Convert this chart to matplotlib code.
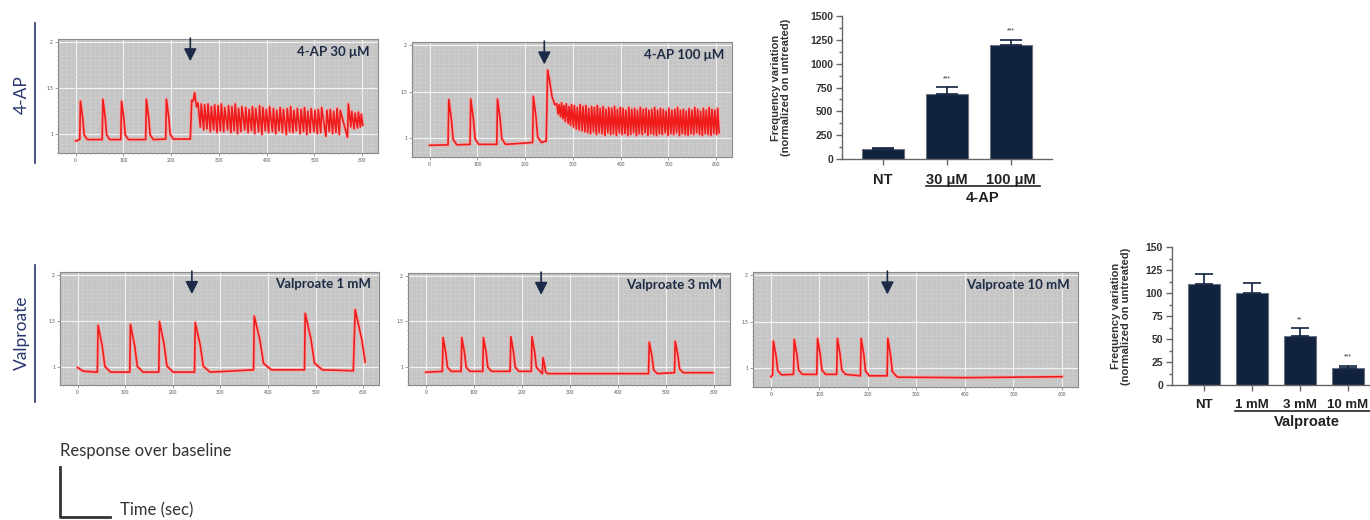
import matplotlib
matplotlib.use('Agg')
import matplotlib.pyplot as plt
from matplotlib.lines import Line2D
from matplotlib.ticker import MultipleLocator

plt.rcParams['font.family'] = ['Lato', 'DejaVu Sans']

W, H = 1370, 520
NAVY = '#1b2a47'
BAR = '#10223e'
RED = '#f01c1c'

# ---- calcium traces (time in s, response over baseline) ----
# 4-AP 30 uM
ap30_start_t = [0]
ap30_start_y = [0.93]
ap30_spike_t = [10, 57, 96, 148, 190]
ap30_spike_y = [1.36, 1.38, 1.36, 1.38, 1.38]
ap30_spike_base = [0.945, 0.945, 0.945, 0.945, 0.95]
ap30_spike_dur = [12, 12, 12, 12, 12]
ap30_tail_t = [240, 243, 246, 249, 253]
ap30_tail_y = [0.95, 1.37, 1.36, 1.45, 1.30]
ap30_burst_t = [256, 263, 270, 277, 284, 291, 298, 305, 312, 320,
                327, 334, 341, 348, 356, 363, 370, 377, 385, 392,
                399, 406, 414, 421, 428, 435, 443, 450, 457, 464,
                472, 479, 486, 493, 501, 508, 515, 526, 533, 540,
                547, 554, 571, 578, 585, 592, 598]
ap30_burst_hi = [1.34, 1.33, 1.32, 1.33, 1.30, 1.32, 1.31, 1.33, 1.29, 1.31,
                 1.30, 1.33, 1.28, 1.30, 1.29, 1.27, 1.30, 1.28, 1.31, 1.29,
                 1.27, 1.30, 1.28, 1.26, 1.29, 1.27, 1.28, 1.30, 1.26, 1.28,
                 1.27, 1.29, 1.25, 1.28, 1.26, 1.27, 1.29, 1.26, 1.27, 1.25,
                 1.28, 1.26, 1.33, 1.25, 1.23, 1.24, 1.22]
ap30_burst_lo = [1.08, 1.05, 1.06, 1.03, 1.05, 1.02, 1.04, 1.03, 1.05, 1.02,
                 1.04, 1.01, 1.03, 1.05, 1.02, 1.04, 1.01, 1.03, 1.00, 1.04,
                 1.02, 1.03, 1.01, 1.04, 1.02, 1.00, 1.03, 1.02, 1.04, 1.01,
                 1.03, 1.00, 1.02, 1.03, 1.01, 1.02, 0.98, 1.03, 1.01, 1.02,
                 1.00, 0.97, 1.08, 1.06, 1.07, 1.08, 1.10]

# 4-AP 100 uM
ap100_start_t = [0]
ap100_start_y = [0.925]
ap100_spike_t = [40, 86, 142, 217]
ap100_spike_y = [1.415, 1.42, 1.42, 1.45]
ap100_spike_base = [0.93, 0.935, 0.935, 0.955]
ap100_spike_dur = [14, 14, 14, 14]
ap100_tail_t = [240, 244, 247, 251, 256, 262]
ap100_tail_y = [0.965, 0.97, 1.73, 1.62, 1.45, 1.36]
ap100_burst_t = [266, 271, 276, 281, 286, 292, 297, 303, 309, 315,
                 321, 327, 333, 339, 345, 351, 357, 363, 369, 375,
                 381, 387, 393, 399, 405, 411, 417, 423, 429, 435,
                 441, 447, 453, 459, 465, 471, 477, 483, 489, 495,
                 501, 507, 513, 519, 525, 531, 537, 543, 549, 555,
                 561, 567, 573, 579, 585, 591, 597, 603]
ap100_burst_hi = [1.37, 1.36, 1.38, 1.35, 1.37, 1.34, 1.36, 1.35, 1.33, 1.36,
                  1.34, 1.35, 1.32, 1.34, 1.33, 1.35, 1.32, 1.34, 1.31, 1.33,
                  1.32, 1.34, 1.31, 1.33, 1.32, 1.30, 1.33, 1.31, 1.32, 1.30,
                  1.33, 1.31, 1.32, 1.30, 1.31, 1.33, 1.30, 1.32, 1.31, 1.29,
                  1.32, 1.30, 1.31, 1.33, 1.30, 1.31, 1.29, 1.32, 1.30, 1.33,
                  1.31, 1.29, 1.32, 1.30, 1.33, 1.31, 1.30, 1.32]
ap100_burst_lo = [1.26, 1.23, 1.21, 1.18, 1.16, 1.14, 1.12, 1.10, 1.09, 1.08,
                  1.07, 1.06, 1.05, 1.07, 1.04, 1.06, 1.05, 1.03, 1.06, 1.04,
                  1.05, 1.03, 1.06, 1.04, 1.05, 1.03, 1.04, 1.06, 1.03, 1.05,
                  1.04, 1.06, 1.03, 1.05, 1.04, 1.03, 1.05, 1.04, 1.06, 1.03,
                  1.05, 1.04, 1.06, 1.03, 1.05, 1.04, 1.03, 1.05, 1.04, 1.06,
                  1.04, 1.03, 1.05, 1.04, 1.03, 1.05, 1.04, 1.06]

# Valproate 1 mM
val1_start_t = [0, 12, 40]
val1_start_y = [0.99, 0.95, 0.94]
val1_spike_t = [43, 111, 172, 247, 371, 478]
val1_spike_y = [1.45, 1.46, 1.49, 1.48, 1.55, 1.58]
val1_spike_base = [0.94, 0.94, 0.94, 0.94, 0.965, 0.965]
val1_spike_dur = [22, 22, 24, 26, 30, 30]
val1_tail_t = [579, 583, 597, 604]
val1_tail_y = [0.955, 1.62, 1.29, 1.05]

# Valproate 3 mM
val3_start_t = [0]
val3_start_y = [0.94]
val3_spike_t = [36, 75, 120, 177, 221, 244, 465, 519]
val3_spike_y = [1.32, 1.32, 1.32, 1.33, 1.33, 1.10, 1.27, 1.28]
val3_spike_base = [0.95, 0.95, 0.95, 0.95, 0.95, 0.925, 0.925, 0.935]
val3_spike_dur = [14, 14, 14, 14, 14, 8, 14, 14]
val3_tail_t = [597]
val3_tail_y = [0.935]

# Valproate 10 mM
val10_start_t = [0]
val10_start_y = [0.91]
val10_spike_t = [5, 48, 96, 137, 186, 241]
val10_spike_y = [1.29, 1.31, 1.32, 1.32, 1.32, 1.32]
val10_spike_base = [0.93, 0.935, 0.935, 0.935, 0.92, 0.92]
val10_spike_dur = [14, 14, 14, 14, 14, 14]
val10_tail_t = [262, 400, 500, 600]
val10_tail_y = [0.905, 0.90, 0.905, 0.91]

drug_time = 240

# ---- frequency bar charts ----
ap_labels = ['NT', '30 μM', '100 μM']
ap_freq = [100, 680, 1200]
ap_err = [15, 72, 50]
ap_stars = ['', '***', '***']

val_labels = ['NT', '1 mM', '3 mM', '10 mM']
val_freq = [110, 100, 53, 19]
val_err = [11, 11, 8.5, 2]
val_stars = ['', '', '**', '***']


def rect(x0, y0, x1, y1):
    return [x0 / W, 1 - y1 / H, (x1 - x0) / W, (y1 - y0) / H]


def build_trace(start_t, start_y, spike_t, spike_y, spike_base, spike_dur,
                tail_t, tail_y, burst_t=None, burst_hi=None, burst_lo=None):
    t = list(start_t)
    y = list(start_y)
    for tp, yp, b, d in zip(spike_t, spike_y, spike_base, spike_dur):
        amp = yp - b
        t += [tp - 1.5, tp, tp + 0.4 * d, tp + 0.65 * d, tp + 1.2 * d]
        y += [b, yp, b + 0.55 * amp, b + 0.12 * amp, b]
    t += tail_t
    y += tail_y
    if burst_t:
        for i in range(len(burst_t)):
            t.append(burst_t[i])
            y.append(burst_hi[i])
            nxt = burst_t[i + 1] - 2 if i + 1 < len(burst_t) else burst_t[i] + 3
            t.append(nxt)
            y.append(burst_lo[i])
    return t, y


def trace_panel(fig, box, t, y, label):
    ax = fig.add_axes(rect(*box))
    ax.set_facecolor('#c5c5c5')
    ax.set_xlim(-37, 633)
    ax.set_ylim(0.8, 2.03)
    ax.xaxis.set_major_locator(MultipleLocator(100))
    ax.xaxis.set_minor_locator(MultipleLocator(10))
    ax.set_yticks([1, 1.5, 2])
    ax.set_yticklabels(['1', '1.5', '2'])
    ax.yaxis.set_minor_locator(MultipleLocator(0.05))
    ax.grid(which='minor', color='#d0d0d0', lw=0.4)
    ax.grid(which='major', color='#f2f2f2', lw=0.9)
    ax.set_axisbelow(True)
    ax.tick_params(labelsize=3.5, labelcolor='#555555', length=2, width=0.5,
                   color='#777777', pad=1.5)
    ax.tick_params(which='minor', length=1, width=0.4, color='#888888')
    for s in ax.spines.values():
        s.set_color('#8a8a8a')
        s.set_linewidth(0.8)
    # soft halo under the trace, like the exported recording
    ax.plot(t, y, color='#f7a3a3', lw=2.6, alpha=0.7, solid_joinstyle='round')
    ax.plot(t, y, color=RED, lw=1.2, solid_joinstyle='round')
    ax.annotate('', xy=(drug_time, 1.79), xytext=(drug_time, 2.04),
                arrowprops=dict(arrowstyle='-|>,head_width=0.38,head_length=0.75',
                                color=NAVY, lw=1.2, shrinkA=0, shrinkB=0))
    ax.text(0.975, 0.89, label, transform=ax.transAxes, ha='right', va='center',
            fontsize=9.5, fontweight='bold', color='#1d2b45')
    return ax


def bar_panel(fig, box, labels, vals, errs, stars, group, group_span, ymax, step,
              xlim, capsize, ylabel_x, label_size):
    ax = fig.add_axes(rect(*box))
    x = list(range(len(vals)))
    ax.bar(x, vals, width=0.67, color=BAR, edgecolor='#6b7280', lw=0.8, zorder=2)
    ax.errorbar(x, vals, yerr=[[0] * len(errs), errs], fmt='none', ecolor=BAR,
                elinewidth=1.2, capsize=capsize, capthick=1.2, zorder=3)
    for xi, v, e, s in zip(x, vals, errs, stars):
        if s:
            ax.text(xi, v + e + 0.035 * ymax, s, ha='center', va='bottom',
                    fontsize=5, color='#333333', family='Liberation Sans')
    ax.set_xlim(*xlim)
    ax.set_ylim(0, ymax)
    ax.yaxis.set_major_locator(MultipleLocator(step))
    ax.yaxis.set_minor_locator(MultipleLocator(step / 2))
    ax.set_xticks(x)
    ax.set_xticklabels(labels, fontsize=label_size, fontweight='bold', color='#222222',
                       family='Liberation Sans')
    for lab in ax.get_yticklabels():
        lab.set_fontweight('bold')
        lab.set_family('Liberation Sans')
    ax.tick_params(axis='y', labelsize=7.5, labelcolor='#333333', length=4,
                   width=1, color='#666666', pad=2.5)
    ax.tick_params(axis='y', which='minor', length=2, width=1, color='#666666')
    ax.tick_params(axis='x', length=4, width=1, color='#666666', pad=6)
    for s in ['top', 'right']:
        ax.spines[s].set_visible(False)
    for s in ['left', 'bottom']:
        ax.spines[s].set_color('#666666')
        ax.spines[s].set_linewidth(1)
    ax.text(ylabel_x, 0.5, 'Frequency variation\n(normalized on untreated)',
            transform=ax.transAxes, rotation=90, ha='center', va='center',
            fontsize=8, fontweight='bold', color='#333333', family='Liberation Sans',
            linespacing=1.05)
    ax.plot(group_span, [-0.19, -0.19], transform=ax.get_xaxis_transform(),
            clip_on=False, color='#222222', lw=1.2)
    ax.text(group[1], -0.27, group[0], transform=ax.get_xaxis_transform(),
            ha='center', va='center', fontsize=10.5, fontweight='bold',
            color='#222222', family='Liberation Sans')
    return ax


def main():
    fig = plt.figure(figsize=(13.7, 5.2), dpi=100)

    t, y = build_trace(ap30_start_t, ap30_start_y, ap30_spike_t, ap30_spike_y,
                       ap30_spike_base, ap30_spike_dur, ap30_tail_t, ap30_tail_y,
                       ap30_burst_t, ap30_burst_hi, ap30_burst_lo)
    trace_panel(fig, (58, 39, 378, 153), t, y, '4-AP 30 μM')

    t, y = build_trace(ap100_start_t, ap100_start_y, ap100_spike_t, ap100_spike_y,
                       ap100_spike_base, ap100_spike_dur, ap100_tail_t, ap100_tail_y,
                       ap100_burst_t, ap100_burst_hi, ap100_burst_lo)
    trace_panel(fig, (412, 42, 732, 157), t, y, '4-AP 100 μM')

    t, y = build_trace(val1_start_t, val1_start_y, val1_spike_t, val1_spike_y,
                       val1_spike_base, val1_spike_dur, val1_tail_t, val1_tail_y)
    trace_panel(fig, (60, 272, 379, 385), t, y, 'Valproate 1 mM')

    t, y = build_trace(val3_start_t, val3_start_y, val3_spike_t, val3_spike_y,
                       val3_spike_base, val3_spike_dur, val3_tail_t, val3_tail_y)
    trace_panel(fig, (408, 273, 730, 385), t, y, 'Valproate 3 mM')

    t, y = build_trace(val10_start_t, val10_start_y, val10_spike_t, val10_spike_y,
                       val10_spike_base, val10_spike_dur, val10_tail_t, val10_tail_y)
    trace_panel(fig, (753, 272, 1078, 387), t, y, 'Valproate 10 mM')

    bar_panel(fig, (842, 16, 1052, 159), ap_labels, ap_freq, ap_err, ap_stars,
              ('4-AP', 1.56), [0.67, 2.45], 1500, 250, (-0.64, 2.64), 8, -0.29, 10.5)
    bar_panel(fig, (1172, 247, 1380, 385), val_labels, val_freq, val_err, val_stars,
              ('Valproate', 2.15), [0.65, 3.8], 150, 25, (-0.67, 3.67), 6.5, -0.245, 9.5)

    # row labels with vertical rules
    fig.text(22 / W, 1 - 95 / H, '4-AP', rotation=90, ha='center', va='center',
             fontsize=12.5, color='#27366e')
    fig.text(22 / W, 1 - 333 / H, 'Valproate', rotation=90, ha='center', va='center',
             fontsize=12.5, color='#27366e')
    fig.add_artist(Line2D([35 / W, 35 / W], [1 - 23 / H, 1 - 163 / H], color='#27366e', lw=1.2))
    fig.add_artist(Line2D([35 / W, 35 / W], [1 - 265 / H, 1 - 402 / H], color='#27366e', lw=1.2))

    # scale legend
    fig.text(60 / W, 1 - 451 / H, 'Response over baseline', ha='left', va='center',
             fontsize=12, color='#333333')
    fig.text(120 / W, 1 - 510 / H, 'Time (sec)', ha='left', va='center',
             fontsize=12, color='#333333')
    fig.add_artist(Line2D([60 / W, 60 / W, 110 / W], [1 - 467 / H, 1 - 517 / H, 1 - 517 / H],
                          color='#333333', lw=2))

    fig.savefig('out.png', dpi=100)
    plt.close(fig)


if __name__ == '__main__':
    main()
